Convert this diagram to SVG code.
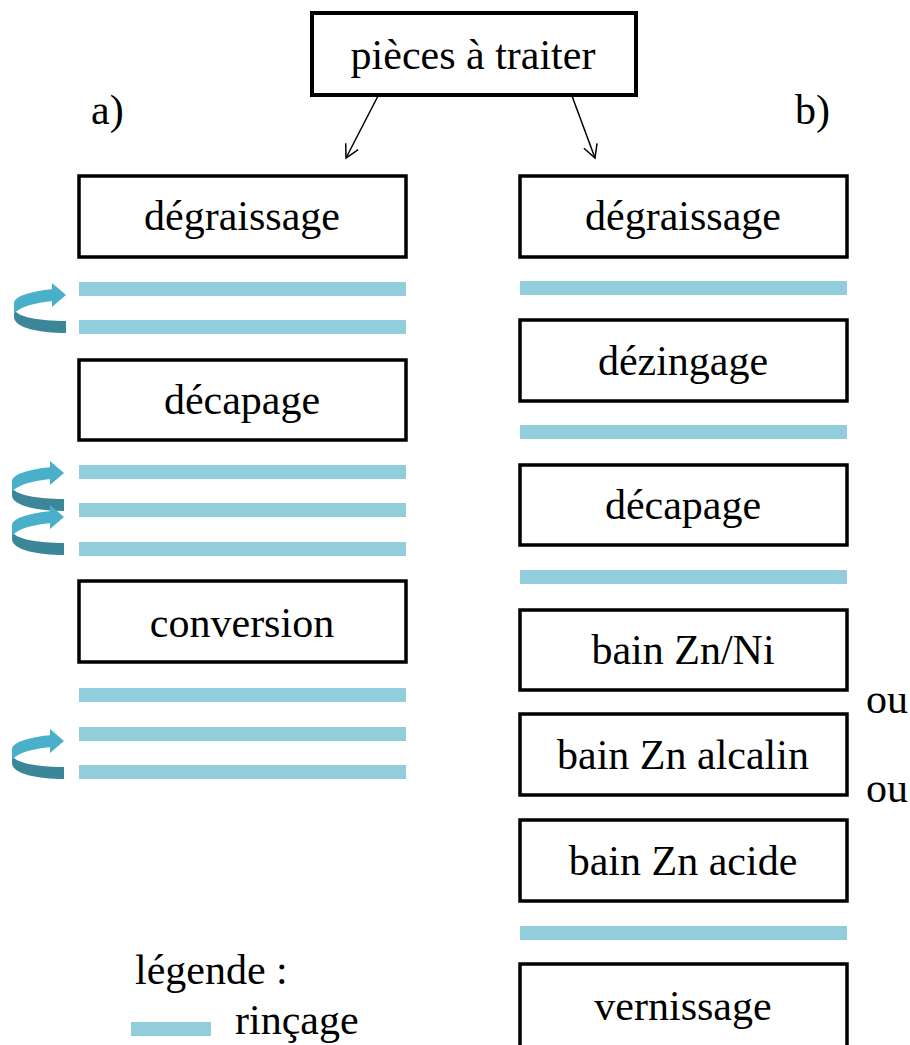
<svg xmlns="http://www.w3.org/2000/svg" width="910" height="1045" viewBox="0 0 910 1045">
<style>
.box{fill:#fff;stroke:#000;stroke-width:3.5}
.top{fill:#fff;stroke:#000;stroke-width:4}
.t{font-size:42px;fill:#000;text-anchor:middle}
.l{font-size:42px;fill:#000}
.r{fill:#92cddc}
.lt{fill:#4aafc8}
.dk{fill:#3b8799}
.ln{stroke:#000;stroke-width:1.5;fill:none}
</style>
<defs>
<marker id="v" markerWidth="20" markerHeight="20" refX="14" refY="8" orient="auto" markerUnits="userSpaceOnUse">
<path d="M1,1 L14,8 L1,15" fill="none" stroke="#000" stroke-width="1.5"/>
</marker>
<g id="curl">
<path class="dk" d="M14,14 C16,22 40,26 66,26 L66,38 C40,38 14,33 14,22 Z"/>
<path class="lt" d="M53,-6 C35,-4 15,0 14,8 L14,19 C20,11 35,8 53,6 Z"/>
<path class="lt" d="M52,-12 L66,0 L52,12 Z"/>
</g>
</defs>
<g id="connectors">
<line class="ln" x1="378" y1="96" x2="346" y2="158" marker-end="url(#v)"/>
<line class="ln" x1="572" y1="96" x2="595" y2="158" marker-end="url(#v)"/>
</g>
<g font-family="Liberation Serif, Times New Roman, serif">
<g id="n-top"><rect class="top" x="312" y="13" width="324" height="82"/><text class="t" x="473" y="69">pièces à traiter</text></g>
<text class="l" x="91" y="124">a)</text>
<text class="l" x="795" y="124">b)</text>
<g id="left">
<g id="la1"><rect class="box" x="79" y="176" width="327" height="81"/><text class="t" x="242" y="230">dégraissage</text></g>
<rect class="r" x="79" y="282" width="327" height="14"/>
<rect class="r" x="79" y="320" width="327" height="14"/>
<g id="la2"><rect class="box" x="79" y="360" width="327" height="80"/><text class="t" x="242" y="414">décapage</text></g>
<rect class="r" x="79" y="465" width="327" height="14"/>
<rect class="r" x="79" y="503" width="327" height="14"/>
<rect class="r" x="79" y="542" width="327" height="14"/>
<g id="la3"><rect class="box" x="79" y="581" width="327" height="81"/><text class="t" x="242" y="637">conversion</text></g>
<rect class="r" x="79" y="688" width="327" height="14"/>
<rect class="r" x="79" y="727" width="327" height="14"/>
<rect class="r" x="79" y="765" width="327" height="14"/>
<use href="#curl" x="0" y="295"/>
<use href="#curl" x="-2" y="473"/>
<use href="#curl" x="-2" y="517"/>
<use href="#curl" x="-2" y="741"/>
</g>
<g id="right">
<g id="rb1"><rect class="box" x="520" y="176" width="327" height="81"/><text class="t" x="683" y="230">dégraissage</text></g>
<rect class="r" x="520" y="281" width="327" height="14"/>
<g id="rb2"><rect class="box" x="520" y="320" width="327" height="81"/><text class="t" x="683" y="375">dézingage</text></g>
<rect class="r" x="520" y="425" width="327" height="14"/>
<g id="rb3"><rect class="box" x="520" y="465" width="327" height="80"/><text class="t" x="683" y="519">décapage</text></g>
<rect class="r" x="520" y="570" width="327" height="14"/>
<g id="rb4"><rect class="box" x="520" y="610" width="327" height="80"/><text class="t" x="683" y="664">bain Zn/Ni</text></g>
<text class="l" x="866" y="713">ou</text>
<g id="rb5"><rect class="box" x="520" y="714" width="327" height="81"/><text class="t" x="683" y="769">bain Zn alcalin</text></g>
<text class="l" x="866" y="802">ou</text>
<g id="rb6"><rect class="box" x="520" y="820" width="327" height="81"/><text class="t" x="683" y="875">bain Zn acide</text></g>
<rect class="r" x="520" y="926" width="327" height="14"/>
<g id="rb7"><rect class="box" x="520" y="964" width="327" height="90"/><text class="t" x="683" y="1020">vernissage</text></g>
</g>
<g id="legend">
<text class="l" x="135" y="984">légende :</text>
<rect class="r" x="131" y="1022" width="80" height="14"/>
<text class="l" x="235" y="1034">rinçage</text>
</g>
</g>
</svg>
